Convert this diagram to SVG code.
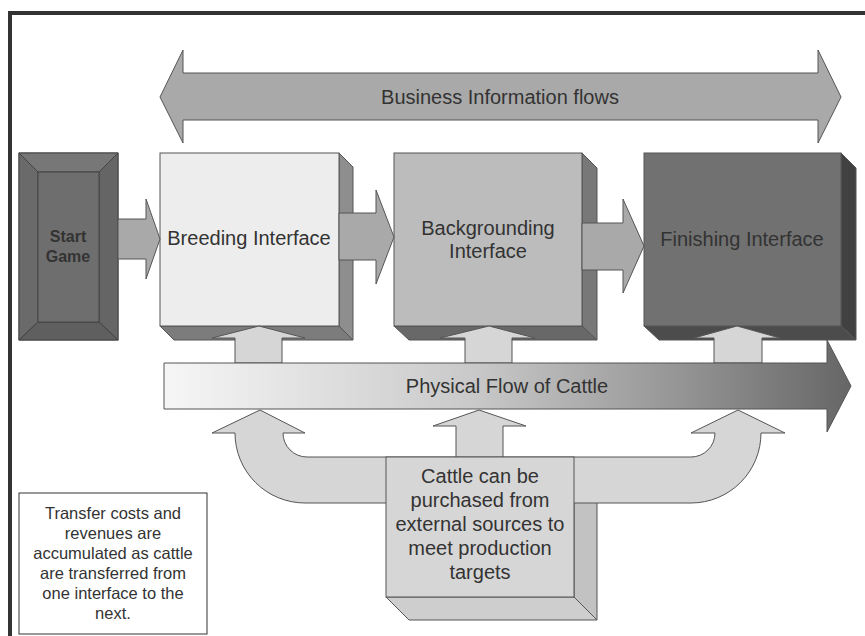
<svg xmlns="http://www.w3.org/2000/svg" width="865" height="636" viewBox="0 0 865 636">
<defs>
<style>
text{font-family:"Liberation Sans",Arial,sans-serif;fill:#333;text-anchor:middle}
.lbl{font-size:20px}
.note{font-size:16.5px}
.sg{font-size:16px;font-weight:bold}
.ln{stroke:#555;stroke-width:1}
.arr{fill:#a9a9a9;stroke:#555;stroke-width:1}
.lt{fill:#d6d6d6;stroke:#555;stroke-width:1}
</style>
<linearGradient id="flowGrad" x1="164" y1="0" x2="851" y2="0" gradientUnits="userSpaceOnUse">
<stop offset="0" stop-color="#f6f6f6"/>
<stop offset="0.45" stop-color="#c9c9c9"/>
<stop offset="0.75" stop-color="#959595"/>
<stop offset="1" stop-color="#666"/>
</linearGradient>
</defs>
<rect width="865" height="636" fill="#fff"/>
<path d="M10,636 V13 H865" fill="none" stroke="#333" stroke-width="4"/>

<g id="info-flow">
<polygon class="arr" points="160,97 183,50 183,73 818,73 818,50 841,97 818,143 818,120 183,120 183,143"/>
<text class="lbl" x="500" y="104">Business Information flows</text>
</g>

<g id="start-game">
<rect x="19" y="153" width="99" height="187" fill="#6c6c6c" stroke="#444"/>
<polygon points="19,153 118,153 99,172 38,172" fill="#777" stroke="#444"/>
<polygon points="19,153 38,172 38,322 19,340" fill="#6a6a6a" stroke="#444"/>
<polygon points="118,153 118,340 99,322 99,172" fill="#656565" stroke="#444"/>
<polygon points="19,340 118,340 99,322 38,322" fill="#5f5f5f" stroke="#444"/>
<rect x="38" y="172" width="61" height="150" fill="#6e6e6e" stroke="#444"/>
<text class="sg" x="68" y="242">Start</text>
<text class="sg" x="68" y="262">Game</text>
</g>

<g id="breeding">
<polygon points="339,153 353,167 353,340 339,326" fill="#8e8e8e" class="ln"/>
<polygon points="160,326 339,326 353,340 174,340" fill="#7c7c7c" class="ln"/>
<rect x="160" y="153" width="179" height="173" fill="#ededed" class="ln"/>
<text class="lbl" x="249" y="245">Breeding Interface</text>
</g>

<g id="backgrounding">
<polygon points="582,153 597,168 597,340 582,326" fill="#787878" class="ln"/>
<polygon points="394,326 582,326 597,340 409,340" fill="#686868" class="ln"/>
<rect x="394" y="153" width="188" height="173" fill="#bcbcbc" class="ln"/>
<text class="lbl" x="488" y="235">Backgrounding</text>
<text class="lbl" x="488" y="258">Interface</text>
</g>

<g id="finishing">
<polygon points="841,153 856,168 856,340 841,326" fill="#414141" class="ln"/>
<polygon points="644,326 841,326 856,340 659,340" fill="#4c4c4c" class="ln"/>
<rect x="644" y="153" width="197" height="173" fill="#717171" class="ln"/>
<text class="lbl" x="742" y="246">Finishing Interface</text>
</g>

<g id="purchase-box-back">
<polygon points="574,457 597,480 597,620 574,597" fill="#c2c2c2" class="ln"/>
<polygon points="386,597 574,597 597,620 409,620" fill="#cecece" class="ln"/>
</g>

<g id="connectors">
<polygon class="arr" points="118,219 146,219 146,199 160,239 146,279 146,259 118,259"/>
<polygon class="arr" points="339,213 376,213 376,190 394,237 376,284 376,260 339,260"/>
<polygon class="arr" points="582,223 623,223 623,199 644,246 623,293 623,270 582,270"/>
<polygon class="lt" points="235,363 235,338 212,338 259,326 305,338 282,338 282,363"/>
<polygon class="lt" points="465,363 465,338 440,338 489,326 535,338 512,338 512,363"/>
<polygon class="lt" points="714,363 714,338 694,338 737,326 780,338 762,338 762,363"/>
<path class="lt" d="M260,410 L305,433 L283,433 A24,24 0 0 0 307,457 L691,457 A24,24 0 0 0 715,433 L691,433 L738,410 L785,433 L761,433 A70,70 0 0 1 691,503 L305,503 A70,70 0 0 1 235,433 L212,433 Z"/>
<polygon class="lt" points="456,457 456,426 433,426 479,410 526,426 503,426 503,457"/>
</g>

<g id="physical-flow">
<polygon points="164,363 827,363 827,340 851,386 827,432 827,409 164,409" fill="url(#flowGrad)" stroke="#555"/>
<text class="lbl" x="507" y="393">Physical Flow of Cattle</text>
</g>

<g id="purchase-box">
<rect x="386" y="457" width="188" height="140" fill="#d6d6d6" class="ln"/>
<text class="lbl" x="480" y="483">Cattle can be</text>
<text class="lbl" x="480" y="507">purchased from</text>
<text class="lbl" x="480" y="531">external sources to</text>
<text class="lbl" x="480" y="555">meet production</text>
<text class="lbl" x="480" y="579">targets</text>
</g>

<g id="note">
<rect x="19" y="493" width="188" height="141" fill="#fff" stroke="#333"/>
<text class="note" x="113" y="519">Transfer costs and</text>
<text class="note" x="113" y="539">revenues are</text>
<text class="note" x="113" y="559">accumulated as cattle</text>
<text class="note" x="113" y="579">are transferred from</text>
<text class="note" x="113" y="599">one interface to the</text>
<text class="note" x="113" y="619">next.</text>
</g>
</svg>
